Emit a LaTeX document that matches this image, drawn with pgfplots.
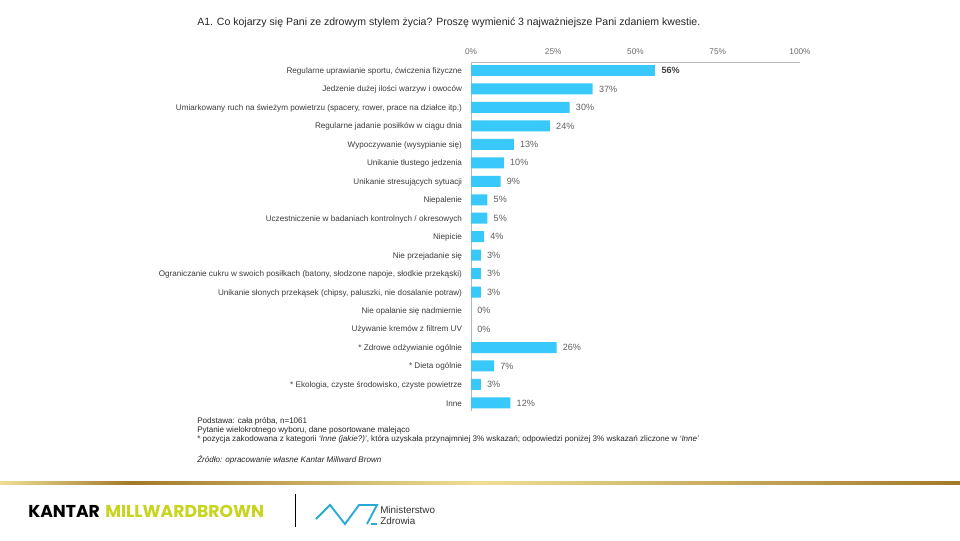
\documentclass[border=0pt]{standalone}
\usepackage{pgfplots}
\pgfplotsset{compat=1.18}
\usepackage{fontspec}
\setmainfont{Liberation Sans}
\newfontfamily\logofont{Poppins}
\definecolor{barblue}{RGB}{56,200,250}
\definecolor{txt}{RGB}{60,60,60}
\definecolor{goldL}{RGB}{240,222,150}
\definecolor{goldD}{RGB}{160,122,40}
\definecolor{mbgreen}{RGB}{200,212,30}
\definecolor{mzblue}{RGB}{40,170,215}
\begin{document}
\begin{tikzpicture}
\begin{scope}[x=0.75pt,y=-0.75pt]
\useasboundingbox (0,0) rectangle (960,540);
\fill[white] (0,0) rectangle (960,540);
\coordinate (axNW) at (471,62.2);
\node[anchor=west, font=\fontsize{7.9}{9}\selectfont, text=black!85, inner sep=0pt] at (197,23)
  {A1. Co kojarzy się Pani ze zdrowym stylem życia? Proszę wymienić 3 najważniejsze Pani zdaniem kwestie.};
% footnotes
\begin{scope}[every node/.style={anchor=west, inner sep=0pt, font=\fontsize{6.05}{7}\selectfont, text=black!85}]
\node at (197,421) {Podstawa: cała próba, n=1061};
\node at (197,430) {Pytanie wielokrotnego wyboru, dane posortowane malejąco};
\node at (197,439) {* pozycja zakodowana z kategorii \textit{‘Inne (jakie?)’}, która uzyskała przynajmniej 3\% wskazań; odpowiedzi poniżej 3\% wskazań zliczone w \textit{‘Inne’}};
\node at (197,460) {\textit{Źródło: opracowanie własne Kantar Millward Brown}};
\end{scope}
% gold line
\shade[left color=goldL, right color=goldD] (0,481) rectangle (130,484);
\shade[left color=goldD, right color=goldL] (130,481) rectangle (480,484);
\shade[left color=goldL, right color=goldD] (480,481) rectangle (960,484);
% logos
\node[anchor=west, inner sep=0pt, font=\logofont\bfseries\fontsize{12.9}{15}\selectfont] at (28,511)
  {KANTAR\hspace{4pt}\textcolor{mbgreen}{MILLWARDBROWN}};
\draw[black, line width=0.75pt] (295,494) -- (295,527);
\draw[mzblue, line width=1.4pt, line join=miter] (316,519) -- (330,505) -- (345,524) -- (359,505) -- (377,505) -- (367,524);
\fill[mzblue] (371,522.5) rectangle (377,525);
\node[anchor=west, inner sep=0pt, font=\fontsize{7.4}{8}\selectfont, text=black!80] at (380,510) {Ministerstwo};
\node[anchor=west, inner sep=0pt, font=\fontsize{7.4}{8}\selectfont, text=black!80] at (380,521) {Zdrowia};
\end{scope}
\begin{axis}[
  at={(axNW)}, anchor=north west,
  scale only axis, width=246.75pt, height=261.75pt,
  xbar, bar width=8.25pt, bar shift=0pt,
  xmin=0, xmax=100, ymin=-0.45, ymax=18.45,
  axis x line*=top, axis y line*=left,
  axis line style={draw=gray!55},
  /pgf/number format/assume math mode=true,
  xtick={0,25,50,75,100},
  xticklabels={0\%,25\%,50\%,75\%,100\%},
  xticklabel style={font=\fontsize{6.2}{7}\selectfont, text=gray!85!black, yshift=2pt},
  x tick style={draw=none},
  ytick={0,...,18},
  yticklabels={Inne,
    {* Ekologia, czyste środowisko, czyste powietrze},
    * Dieta ogólnie,
    * Zdrowe odżywianie ogólnie,
    Używanie kremów z filtrem UV,
    Nie opalanie się nadmiernie,
    {Unikanie słonych przekąsek (chipsy, paluszki, nie dosalanie potraw)},
    {Ograniczanie cukru w swoich posiłkach (batony, słodzone napoje, słodkie przekąski)},
    Nie przejadanie się,
    Niepicie,
    Uczestniczenie w badaniach kontrolnych / okresowych,
    Niepalenie,
    Unikanie stresujących sytuacji,
    Unikanie tłustego jedzenia,
    Wypoczywanie (wysypianie się),
    Regularne jadanie posiłków w ciągu dnia,
    {Umiarkowany ruch na świeżym powietrzu (spacery, rower, prace na działce itp.)},
    Jedzenie dużej ilości warzyw i owoców,
    {Regularne uprawianie sportu, ćwiczenia fizyczne}},
  yticklabel style={font=\fontsize{6.1}{7}\selectfont, text=txt, anchor=east, inner sep=0pt, xshift=-2.3pt, yshift=-0.6pt},
  y tick style={draw=none},
  extra y ticks={0.5,1.5,...,17.5},
  extra y tick labels={},
  extra y tick style={tick style={draw=gray!55}, major tick length=2.5pt, tick align=outside},
  point meta=x,
  nodes near coords={\pgfmathprintnumber{\pgfplotspointmeta}\%},
  nodes near coords style={font=\fontsize{6.8}{8}\selectfont, text=gray!75!black, anchor=west, inner sep=0pt, xshift=4.5pt},
  clip=false,
]
\addplot[fill=barblue, draw=none] coordinates {
  (37,17) (30,16) (24,15) (13,14) (10,13) (9,12) (5,11) (5,10) (4,9)
  (3,8) (3,7) (3,6) (0,5) (0,4) (26,3) (7,2) (3,1) (12,0)
};
\addplot[fill=barblue, draw=none, nodes near coords style={font=\fontsize{6.8}{8}\selectfont\bfseries, text=black!75}] coordinates {(56,18)};
\end{axis}
\end{tikzpicture}
\end{document}
